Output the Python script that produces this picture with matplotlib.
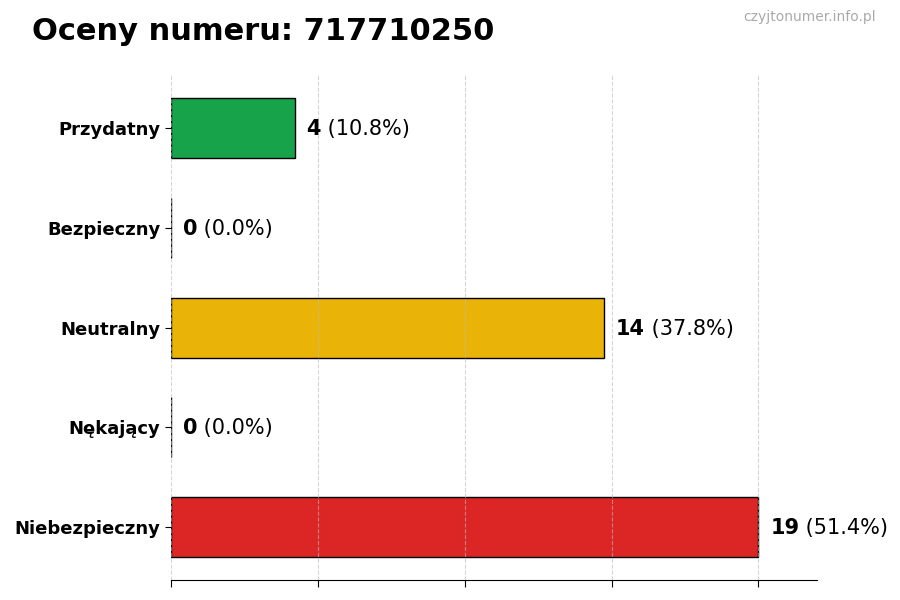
import matplotlib
matplotlib.use("Agg")
import matplotlib.pyplot as plt
import numpy as np

categories = ["Przydatny", "Bezpieczny", "Neutralny", "Nękający", "Niebezpieczny"]
values = [4, 0, 14, 0, 19]
colors = ["#16a34a", "#9ca3af", "#eab308", "#f97316", "#dc2626"]
title = "Oceny numeru: 717710250"
watermark = "czyjtonumer.info.pl"

total = sum(values)
fig = plt.figure(figsize=(9, 6), dpi=100)
ax = fig.add_axes([0.19, 0.033, 0.718, 0.842])

y = np.arange(len(categories))
ax.barh(y, values, height=0.6, color=colors, edgecolor="black", linewidth=1)
ax.invert_yaxis()
ax.set_yticks(y)
ax.set_yticklabels(categories, fontsize=13, fontweight="bold")
vmax = max(values)
ax.set_xlim(0, vmax * 1.1)
ax.set_xticks(np.linspace(0, vmax, 5))
ax.set_xticklabels([])
ax.set_axisbelow("line")
ax.grid(axis="x", linestyle="--", color="#bbbbbb", alpha=0.6, linewidth=0.8)
for s in ["top", "right", "left"]:
    ax.spines[s].set_visible(False)
ax.tick_params(axis="y", length=4)
ax.tick_params(axis="x", length=5)

for i, v in enumerate(values):
    pct = v / total * 100
    t1 = ax.text(v + vmax * 0.02, i + 0.01, str(v), fontsize=15, fontweight="bold",
                 va="center", ha="left", zorder=4)
    ax.annotate(f" ({pct:.1f}%)", xy=(1, 0.5), xycoords=t1, va="center", ha="left",
                fontsize=15)

fig.text(0.036, 0.948, title, fontsize=22, fontweight="bold", va="center", ha="left")
fig.text(0.973, 0.971, watermark, fontsize=10, color="#aaaaaa", va="center", ha="right")

fig.savefig("out.png", dpi=100)
